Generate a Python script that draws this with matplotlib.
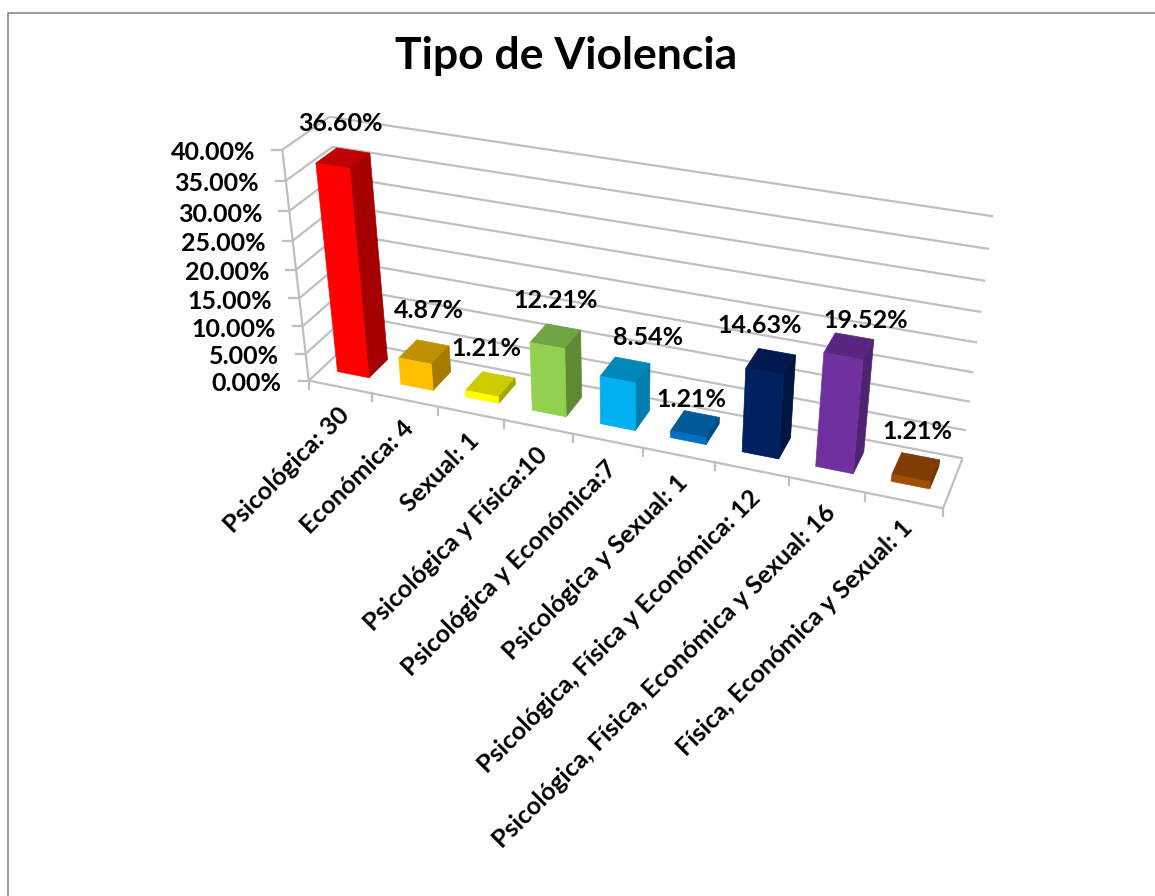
import numpy as np
import matplotlib
matplotlib.use('Agg')
import matplotlib.pyplot as plt

# Data
categories = ['Psicológica: 30', 'Económica: 4', 'Sexual: 1', 'Psicológica y Física:10',
              'Psicológica y Económica:7', 'Psicológica y Sexual: 1',
              'Psicológica, Física y Económica: 12', 'Psicológica, Física, Económica y Sexual: 16',
              'Física, Económica y Sexual: 1']
values = [36.60, 4.87, 1.21, 12.21, 8.54, 1.21, 14.63, 19.52, 1.21]
axis_ticks = [0, 5, 10, 15, 20, 25, 30, 35, 40]

# Face colours: front, side, top
front_colors = ['#FF0000', '#FFC000', '#FFFF00', '#92D050', '#00B0F0', '#0070C0', '#002060', '#7030A0', '#A34D00']
side_colors = ['#A50000', '#A67C00', '#A6A600', '#5F8A34', '#007EAD', '#004A80', '#001540', '#4F2272', '#6E3400']
top_colors = ['#C00000', '#BF9000', '#CCCC00', '#70A542', '#0088BB', '#005A9A', '#001A50', '#5A2680', '#7F3D05']
label_dx = [-2, 6, -3, 1, 24, -3, -11, 17, 2]
label_dy = [-35, -42, -37, -37, -33, -26, -37, -27, -37]

GRID = '#BFBFBF'
FONT = 'Lato'
TEXT_SIZE = 18

# Perspective camera fitted to the corners of the chart box (pixels)
cube = [(0, 0, 0), (1, 0, 0), (0, 1, 0), (1, 1, 0), (0, 0, 1), (0, 1, 1), (1, 1, 1)]
pix = [(310, 377), (943, 511), (350, 345), (963, 455), (281, 151), (331, 115), (993, 217)]
rows, rhs = [], []
for (a, b, c), (u, v) in zip(cube, pix):
    rows.append([a, b, c, 1, 0, 0, 0, 0, -u * a, -u * b, -u * c])
    rows.append([0, 0, 0, 0, a, b, c, 1, -v * a, -v * b, -v * c])
    rhs += [u, v]
cam = np.append(np.linalg.lstsq(np.array(rows), np.array(rhs, float), rcond=None)[0], 1).reshape(3, 4)


def proj(cat, depth, val):
    # cat in category units, depth 0-1, val in percent
    p = cam @ np.array([cat / len(categories), depth, val / axis_ticks[-1], 1.0])
    return p[0] / p[2], p[1] / p[2]


fig = plt.figure(figsize=(11.55, 8.96), dpi=100)
ax = fig.add_axes([0, 0, 1, 1])
ax.set_xlim(0, 1155)
ax.set_ylim(896, 0)
ax.axis('off')

# chart frame
ax.plot([1155, 7.5, 7.5], [13.5, 13.5, 896], color='#8C8C8C', lw=1.2)

ax.text(566, 56, 'Tipo de Violencia', ha='center', va='center', fontsize=32,
        fontweight='bold', family=FONT, color='black')


def line(p, q, **kw):
    ax.plot([p[0], q[0]], [p[1], q[1]], color=GRID, lw=1.6, solid_capstyle='butt', **kw)


n = len(categories)
# walls
for t in axis_ticks:
    line(proj(0, 0, t), proj(0, 1, t))
    line(proj(0, 1, t), proj(n, 1, t))
    x, y = proj(0, 0, t)
    ax.plot([x - 10, x], [y, y], color=GRID, lw=1.6)
    ax.text(x - 27, y + 3, f'{t:.2f}%', ha='right', va='center', fontsize=TEXT_SIZE,
            fontweight='bold', family=FONT)
line(proj(0, 0, 0), proj(0, 0, axis_ticks[-1]))

# floor
line(proj(0, 0, 0), proj(n, 0, 0))
line(proj(n, 0, 0), proj(n, 1, 0))
for i in range(n + 1):
    x, y = proj(i, 0, 0)
    ax.plot([x, x], [y, y + 8], color=GRID, lw=1.6)

# bars
gap = 0.25
d0, d1 = 0.3, 0.75
for i, v in enumerate(values):
    x0, x1 = i + gap, i + 1 - gap
    front = [proj(x0, d0, 0), proj(x1, d0, 0), proj(x1, d0, v), proj(x0, d0, v)]
    side = [proj(x1, d0, 0), proj(x1, d1, 0), proj(x1, d1, v), proj(x1, d0, v)]
    top = [proj(x0, d0, v), proj(x1, d0, v), proj(x1, d1, v), proj(x0, d1, v)]
    for face, col in [(top, top_colors[i]), (side, side_colors[i]), (front, front_colors[i])]:
        ax.fill(*zip(*face), color=col, lw=0.5, zorder=3)
    cx, cy = proj(i + 0.5, 0.5, v)
    ax.text(cx + label_dx[i], cy + label_dy[i], f'{v:.2f}%', ha='center', va='center',
            fontsize=TEXT_SIZE, fontweight='bold', family=FONT, zorder=4)

# category labels
for i, name in enumerate(categories):
    x, y = proj(i + 0.5, 0, 0)
    ax.text(x - 3, y + 16, name, rotation=45, rotation_mode='anchor', ha='right', va='top',
            fontsize=TEXT_SIZE, fontweight='bold', family=FONT)

fig.savefig('out.png', dpi=100)
